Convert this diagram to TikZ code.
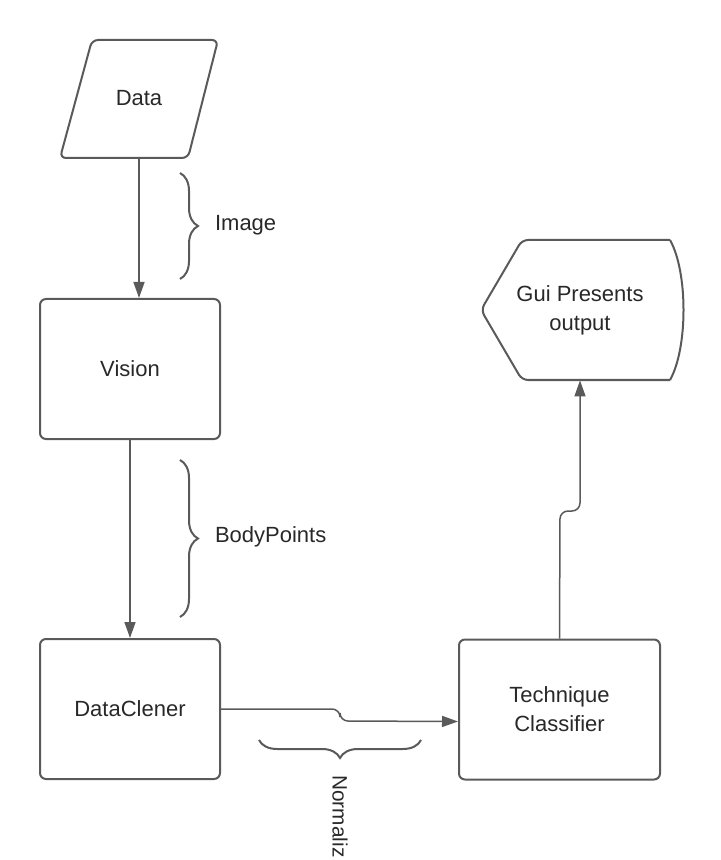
\documentclass[tikz,border=0pt]{standalone}
\usepackage{fontspec}
\setmainfont{Liberation Sans}
\usetikzlibrary{arrows.meta,positioning,decorations.pathreplacing}
\definecolor{flline}{RGB}{90,90,90}
\definecolor{fltext}{RGB}{40,40,40}

\begin{document}
\begin{tikzpicture}[x=0.5pt,y=-0.5pt,
  box/.style={draw=flline,line width=1pt,rounded corners=3pt,minimum width=90pt,minimum height=70pt,
    font=\fontsize{11}{14.5}\selectfont,text=fltext,align=center},
  lbl/.style={font=\fontsize{11}{14.5}\selectfont,text=fltext,align=center},
  outline/.style={draw=flline,line width=1pt,rounded corners=3pt},
  arr/.style={draw=flline,line width=0.75pt,-{Triangle[length=8pt,width=5.5pt]}},
  brc/.style={draw=flline,line width=1pt,decorate,decoration={brace,amplitude=9pt}}]
  \useasboundingbox (0,0) rectangle (720,860);
  % shapes
  \node[lbl,minimum width=64pt,minimum height=59pt] (data) at (139,98) {Data};
  \draw[outline] (92,40) -- (218,40) -- (188,158) -- (60,158) -- cycle;
  \node[box,text depth=0pt] (vision) at (130,369) {Vision};
  \node[box,text depth=0pt] (clener) at (130,709) {DataClener};
  \node[box,minimum width=100.5pt] (tech) at (559.5,709.5) {Technique\\Classifier};
  \node[lbl,minimum width=100pt,minimum height=70pt] (gui) at (580,310) {Gui Presents\\output};
  \draw[outline] (670,380) -- (522,380) -- (481,310) -- (522,240) -- (670,240);
  \draw[draw=flline,line width=1pt] (670,240) .. controls (688,272) and (688,348) .. (670,380);
  % arrows
  \draw[arr] (data.south) -- (data.south |- vision.north);
  \draw[arr] (vision.south) -- (clener.north);
  \draw[arr,rounded corners=4pt] (clener.east) -- (340,709) -- (340,721) -- ([yshift=-6pt]tech.west);
  \draw[arr,rounded corners=4pt] (tech.north) -- (560,511) -- (580,511) -- (gui.south);
  % braces
  \draw[brc] (180,173) -- (180,279);
  \node[lbl,anchor=west] (image) at (208,225) {Image};
  \draw[brc] (180,460) -- (180,617);
  \node[lbl,anchor=west] (points) at (208,537) {BodyPoints};
  \draw[brc] (421,740) -- (259,740);
  \node[lbl,font=\fontsize{10.4}{13}\selectfont,inner sep=0pt,anchor=west,rotate=-90] (norm) at (340,775) {Normaliz};
\end{tikzpicture}
\end{document}
